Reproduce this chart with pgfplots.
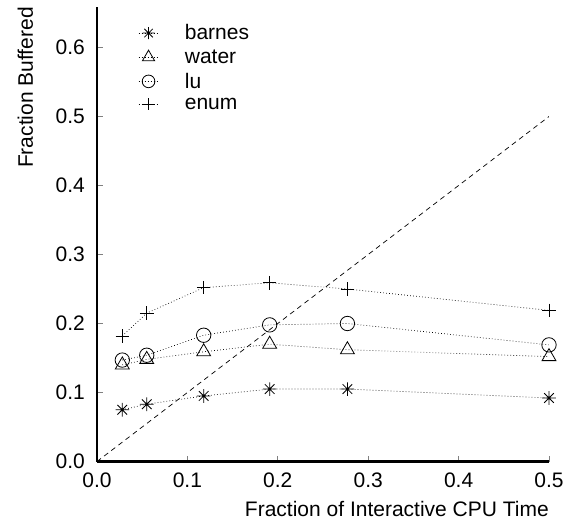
\documentclass[border=0pt]{standalone}
\usepackage{pgfplots}
\pgfplotsset{compat=1.18}
\usepackage{fontspec}
\setmainfont{Liberation Sans}
\pgfdeclareplotmark{ast8}{%
  \pgfpathmoveto{\pgfqpoint{0pt}{\pgfplotmarksize}}\pgfpathlineto{\pgfqpoint{0pt}{-\pgfplotmarksize}}%
  \pgfpathmoveto{\pgfqpoint{\pgfplotmarksize}{0pt}}\pgfpathlineto{\pgfqpoint{-\pgfplotmarksize}{0pt}}%
  \pgfpathmoveto{\pgfqpoint{0.7071\pgfplotmarksize}{0.7071\pgfplotmarksize}}\pgfpathlineto{\pgfqpoint{-0.7071\pgfplotmarksize}{-0.7071\pgfplotmarksize}}%
  \pgfpathmoveto{\pgfqpoint{0.7071\pgfplotmarksize}{-0.7071\pgfplotmarksize}}\pgfpathlineto{\pgfqpoint{-0.7071\pgfplotmarksize}{0.7071\pgfplotmarksize}}%
  \pgfusepathqstroke}
\begin{document}
\begin{tikzpicture}[font=\fontsize{21bp}{25bp}\selectfont]
\path[use as bounding box] (-97bp,-62.5bp) rectangle (479bp,461.5bp);
\begin{axis}[
  at={(0,0)}, anchor=south west,
  scale only axis, width=452bp, height=454.5bp,
  xmin=0, xmax=0.5, ymin=0, ymax=0.6587,
  axis lines=left,
  axis line style={line width=2.5bp, -},
  xtick={0,0.1,...,0.5}, ytick={0,0.1,...,0.6},
  tick align=inside,
  major tick length=6bp,
  tick style={gray, line width=0.8bp},
  /pgf/number format/.cd, fixed, fixed zerofill, precision=1, assume math mode=true,
  /pgfplots/.cd,
  yticklabel style={inner sep=0pt, anchor=east, xshift=-12bp},
  xticklabel style={inner sep=0pt, anchor=north, yshift=-11.5bp},
  xlabel={Fraction of Interactive CPU Time},
  ylabel={Fraction Buffered},
  xlabel style={at={(rel axis cs:1,0)}, anchor=base east, inner sep=0pt, yshift=-54.5bp},
  ylabel style={at={([xshift=-64bp]rel axis cs:0,1)}, anchor=base east, inner sep=0pt},
  legend style={at={(rel axis cs:0,1)}, anchor=north west, draw=none, fill=none,
    xshift=38bp, yshift=-13.5bp,
    row sep=4.3bp,
    /tikz/every odd column/.append style={column sep=24bp}},
  legend cell align=left,
  legend image code/.code={%
    \draw[mark repeat=2, mark phase=2, every mark/.append style={scale=0.88}]
      plot coordinates {(0bp,0bp) (10bp,0bp) (20bp,0bp)};},
  every axis plot/.append style={black, line width=0.7bp, dash pattern=on 0.7bp off 2.3bp,
    mark size=6.8bp, mark options={solid, line width=0.8bp}},
]
\addplot[mark=ast8] coordinates {(0.028,0.075) (0.055,0.083) (0.118,0.095) (0.191,0.105) (0.277,0.105) (0.5,0.092)};
\addlegendentry{barnes}
\addplot[mark=triangle, mark size=8bp] coordinates {(0.028,0.140) (0.055,0.148) (0.118,0.159) (0.191,0.170) (0.277,0.162) (0.5,0.152)};
\addlegendentry{water}
\addplot[mark=o, mark size=7.2bp] coordinates {(0.028,0.147) (0.055,0.154) (0.118,0.183) (0.191,0.198) (0.277,0.200) (0.5,0.169)};
\addlegendentry{lu}
\addplot[mark=+] coordinates {(0.028,0.182) (0.055,0.215) (0.118,0.252) (0.191,0.259) (0.277,0.250) (0.5,0.219)};
\addlegendentry{enum}
\addplot[black, dash pattern=on 5bp off 4bp, line width=0.7bp, mark=none, forget plot] coordinates {(0,0) (0.5,0.5)};
\end{axis}
\end{tikzpicture}
\end{document}
